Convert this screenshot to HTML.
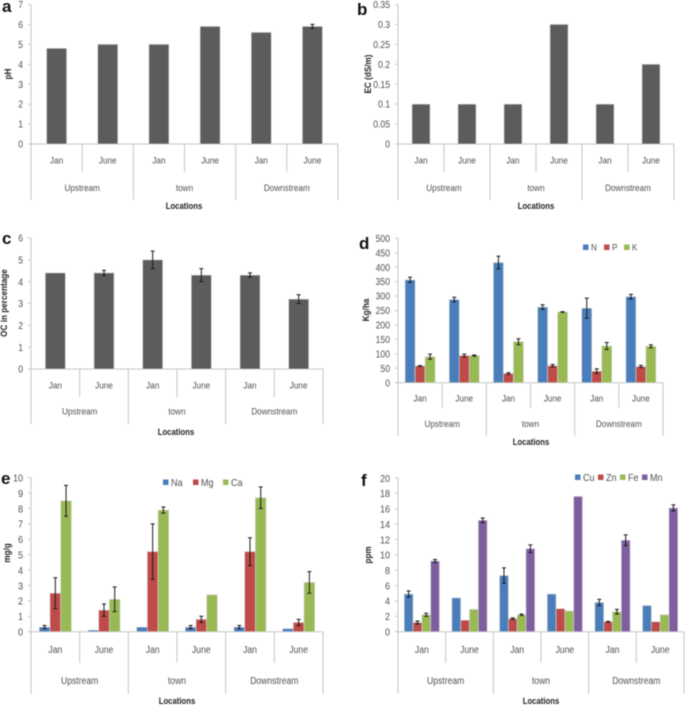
<!DOCTYPE html>
<html lang="en">
<head>
<meta charset="utf-8">
<title>Soil properties by location</title>
<style>
html,body{margin:0;padding:0;background:#fff;width:685px;height:706px;overflow:hidden}
#figure{display:block;filter:blur(0.5px);font-family:"Liberation Sans",sans-serif}
</style>
</head>
<body>
<svg id="figure" xmlns="http://www.w3.org/2000/svg" width="685" height="706" viewBox="0 0 685 706"></svg>
<script>
const categories = ['Jan', 'June', 'Jan', 'June', 'Jan', 'June'];
const groups = ['Upstream', 'town', 'Downstream'];

const phTicks = ['0', '1', '2', '3', '4', '5', '6', '7'];
const phValues = [4.8, 5, 5, 5.9, 5.6, 5.9];
const phErrors = [0, 0, 0, 0, 0, 0.1];

const ecTicks = ['0', '0.05', '0.1', '0.15', '0.2', '0.25', '0.3', '0.35'];
const ecValues = [0.1, 0.1, 0.1, 0.3, 0.1, 0.2];
const ecErrors = [0, 0, 0, 0, 0, 0];

const ocTicks = ['0', '1', '2', '3', '4', '5', '6'];
const ocValues = [4.4, 4.4, 5, 4.3, 4.3, 3.2];
const ocErrors = [0, 0.12, 0.4, 0.3, 0.1, 0.2];

const npkTicks = ['0', '50', '100', '150', '200', '250', '300', '350', '400', '450', '500'];
const nValues = [356, 288, 416, 262, 258, 298];
const nErrors = [9, 8, 22, 8, 35, 8];
const pValues = [58, 94, 32, 59, 40, 56];
const pErrors = [1, 5, 3, 4, 8, 4];
const kValues = [90, 94, 142, 245, 127, 126];
const kErrors = [9, 2, 10, 1, 12, 5];

const cationTicks = ['0', '1', '2', '3', '4', '5', '6', '7', '8', '9', '10'];
const naValues = [0.3, 0.1, 0.3, 0.3, 0.3, 0.2];
const naErrors = [0.1, 0, 0, 0.1, 0.1, 0];
const mgValues = [2.5, 1.4, 5.2, 0.8, 5.2, 0.6];
const mgErrors = [1, 0.4, 1.8, 0.2, 0.9, 0.2];
const caValues = [8.5, 2.1, 7.9, 2.4, 8.7, 3.2];
const caErrors = [1, 0.8, 0.2, 0, 0.7, 0.7];

const microTicks = ['0', '2', '4', '6', '8', '10', '12', '14', '16', '18', '20'];
const cuValues = [4.9, 4.4, 7.3, 4.9, 3.8, 3.4];
const cuErrors = [0.4, 0, 1, 0, 0.4, 0];
const znValues = [1.2, 1.5, 1.7, 3, 1.3, 1.3];
const znErrors = [0.2, 0, 0.1, 0, 0.05, 0];
const feValues = [2.2, 2.9, 2.2, 2.7, 2.6, 2.2];
const feErrors = [0.2, 0, 0.1, 0, 0.3, 0];
const mnValues = [9.2, 14.5, 10.8, 17.6, 11.9, 16.1];
const mnErrors = [0.2, 0.3, 0.5, 0, 0.7, 0.4];

const GREY = '#5c5c5c', BLUE = '#4a7ebb', RED = '#be4b48', GREEN = '#98b954', PURPLE = '#7d5fa0';
const CONDENSE = 0.86;

const panels = [
  { id: 'a', letterX: 2, letterY: 12, title: 'pH', titleX: 11, titleY: 74,
    x0: 31, x1: 338, yTop: 4.5, yZero: 144, catBottom: 172, groupBottom: 200, locX: 184, locY: 209,
    ticks: phTicks, max: 7, barW: 20, tickSize: 10, catSize: 9.5, catOffset: 19.5, groupOffset: 5,
    series: [{ name: 'pH', color: GREY, values: phValues, errors: phErrors }] },
  { id: 'b', letterX: 357, letterY: 15, title: 'EC (dS/m)', titleX: 371, titleY: 74,
    x0: 398, x1: 674, yTop: 4.5, yZero: 144, catBottom: 172, groupBottom: 200, locX: 536, locY: 209,
    ticks: ecTicks, max: 0.35, barW: 18, tickSize: 10, catSize: 9.5, catOffset: 19.5, groupOffset: 5,
    series: [{ name: 'EC', color: GREY, values: ecValues, errors: ecErrors }] },
  { id: 'c', letterX: 2, letterY: 244, title: 'OC in percentage', titleX: 7, titleY: 303,
    x0: 31, x1: 323, yTop: 238, yZero: 369, catBottom: 397, groupBottom: 424, locX: 176, locY: 435,
    ticks: ocTicks, max: 6, barW: 20, tickSize: 10, catSize: 9.5, catOffset: 19.5, groupOffset: 4,
    series: [{ name: 'OC', color: GREY, values: ocValues, errors: ocErrors }] },
  { id: 'd', letterX: 359, letterY: 249, title: 'Kg/ha', titleX: 369, titleY: 310,
    x0: 398, x1: 663, yTop: 238.3, yZero: 382.7, catBottom: 408, groupBottom: 436, locX: 531, locY: 445,
    ticks: npkTicks, max: 500, barW: 10, tickSize: 10, catSize: 9.5, catOffset: 19, groupOffset: 5,
    legendY: 247, legendSize: 9.5,
    series: [
      { name: 'N', color: BLUE, values: nValues, errors: nErrors, legendX: 583 },
      { name: 'P', color: RED, values: pValues, errors: pErrors, legendX: 604 },
      { name: 'K', color: GREEN, values: kValues, errors: kErrors, legendX: 624 }
    ] },
  { id: 'e', letterX: 1, letterY: 484, title: 'mg/g', titleX: 10, titleY: 553,
    x0: 31, x1: 323, yTop: 477.7, yZero: 631.7, catBottom: 662.7, groupBottom: 694, locX: 177, locY: 704,
    ticks: cationTicks, max: 10, barW: 10.7, tickSize: 10.5, catSize: 10, catOffset: 21.5, groupOffset: 5.5,
    legendY: 482, legendSize: 10.5,
    series: [
      { name: 'Na', color: BLUE, values: naValues, errors: naErrors, legendX: 163 },
      { name: 'Mg', color: RED, values: mgValues, errors: mgErrors, legendX: 193 },
      { name: 'Ca', color: GREEN, values: caValues, errors: caErrors, legendX: 223 }
    ] },
  { id: 'f', letterX: 361, letterY: 486, title: 'ppm', titleX: 371, titleY: 555,
    x0: 398, x1: 684, yTop: 478, yZero: 631.7, catBottom: 662.7, groupBottom: 694, locX: 541, locY: 704,
    ticks: microTicks, max: 20, barW: 8.8, tickSize: 10.5, catSize: 10, catOffset: 21.5, groupOffset: 5.5,
    legendY: 477, legendSize: 10.5,
    series: [
      { name: 'Cu', color: BLUE, values: cuValues, errors: cuErrors, legendX: 575 },
      { name: 'Zn', color: RED, values: znValues, errors: znErrors, legendX: 598 },
      { name: 'Fe', color: GREEN, values: feValues, errors: feErrors, legendX: 620 },
      { name: 'Mn', color: PURPLE, values: mnValues, errors: mnErrors, legendX: 642 }
    ] }
];

const NS = 'http://www.w3.org/2000/svg';
const AXIS = '#c6c6c6';
const root = document.getElementById('figure');

function make(parent, tag, props, content) {
  const el = document.createElementNS(NS, tag);
  for (const k in props) el.setAttribute(k, props[k]);
  if (content !== undefined) el.textContent = content;
  parent.appendChild(el);
  return el;
}

function condense(el) {
  const w = el.getComputedTextLength();
  el.setAttribute('textLength', (w * CONDENSE).toFixed(2));
  el.setAttribute('lengthAdjust', 'spacingAndGlyphs');
}

function drawPanel(p) {
  const g = make(root, 'g', {});
  
  

  const n = categories.length;
  const slot = (p.x1 - p.x0) / n;
  const yScale = v => p.yZero - (v / p.max) * (p.yZero - p.yTop);
  const xScale = i => p.x0 + slot * i;
  const step = p.max / (p.ticks.length - 1);

  const letter = make(g, 'text', { x: p.letterX, y: p.letterY, 'font-size': 17, 'font-weight': 'bold', fill: '#111' }, p.id);
  
  

  const yAxis = make(g, 'line', { x1: p.x0, x2: p.x0, y1: p.yTop, y2: p.yZero, stroke: AXIS, 'stroke-width': 1 });
  
  

  const xAxis = make(g, 'line', { x1: p.x0 - 3, x2: p.x1, y1: p.yZero, y2: p.yZero, stroke: AXIS, 'stroke-width': 1 });
  
  

  p.ticks.forEach((label, i) => {
    const y = yScale(i * step);
    const mark = make(g, 'line', { x1: p.x0 - 3, x2: p.x0, y1: y, y2: y, stroke: AXIS, 'stroke-width': 1 });
    
    
    const t = make(g, 'text', { x: p.x0 - 8, y: y + p.tickSize * 0.36, 'font-size': p.tickSize, 'text-anchor': 'end', fill: '#4f4f4f' }, label);
    
    
    condense(t);
  });

  const yTitle = make(g, 'text', { transform: 'translate(' + p.titleX + ' ' + p.titleY + ') rotate(-90)', 'font-size': 9.5, 'font-weight': 'bold', 'text-anchor': 'middle', fill: '#222' }, p.title);
  
  
  condense(yTitle);

  for (let i = 0; i <= n; i++) {
    const isGroupEdge = i % 2 === 0;
    const sep = make(g, 'line', { x1: xScale(i), x2: xScale(i), y1: p.yZero, y2: isGroupEdge ? p.groupBottom : p.catBottom, stroke: AXIS, 'stroke-width': 1 });
    
    
  }

  categories.forEach((label, i) => {
    const t = make(g, 'text', { x: xScale(i) + slot / 2, y: p.yZero + p.catOffset, 'font-size': p.catSize, 'text-anchor': 'middle', fill: '#4f4f4f' }, label);
    
    
    condense(t);
  });

  groups.forEach((label, i) => {
    const t = make(g, 'text', { x: xScale(i * 2) + slot, y: (p.catBottom + p.groupBottom) / 2 + p.groupOffset, 'font-size': p.catSize, 'text-anchor': 'middle', fill: '#4f4f4f' }, label);
    
    
    condense(t);
  });

  const xTitle = make(g, 'text', { x: p.locX, y: p.locY, 'font-size': 9, 'font-weight': 'bold', 'text-anchor': 'middle', fill: '#222' }, 'Locations');
  
  
  condense(xTitle);

  const count = p.series.length;
  p.series.forEach((s, si) => {
    s.values.forEach((v, i) => {
      const bx = xScale(i) + slot / 2 - (count * p.barW) / 2 + si * p.barW;
      const by = yScale(v);
      const bar = make(g, 'rect', { x: bx, y: by, width: p.barW, height: p.yZero - by, fill: s.color, stroke: '#d8d8d8', 'stroke-width': 0.6 });
      
      
    });
  });

  p.series.forEach((s, si) => {
    s.errors.forEach((e, i) => {
      if (!e) return;
      const cx = xScale(i) + slot / 2 - (count * p.barW) / 2 + (si + 0.5) * p.barW;
      const hi = yScale(s.values[i] + e), lo = yScale(s.values[i] - e);
      const whisker = make(g, 'path', {
        d: 'M' + cx + ' ' + hi + 'V' + lo + 'M' + (cx - 2) + ' ' + hi + 'H' + (cx + 2) + 'M' + (cx - 2) + ' ' + lo + 'H' + (cx + 2),
        stroke: '#1a1a1a', 'stroke-width': 1, fill: 'none'
      });
      
      
    });
  });

  if (count > 1) {
    p.series.forEach(s => {
      const swatch = make(g, 'rect', { x: s.legendX, y: p.legendY - 2.5, width: 5.5, height: 5.5, fill: s.color });
      
      
      const t = make(g, 'text', { x: s.legendX + 8, y: p.legendY + p.legendSize * 0.36, 'font-size': p.legendSize, fill: '#4f4f4f' }, s.name);
      
      
      condense(t);
    });
  }
}

panels.forEach(drawPanel);
</script>
</body>
</html>
